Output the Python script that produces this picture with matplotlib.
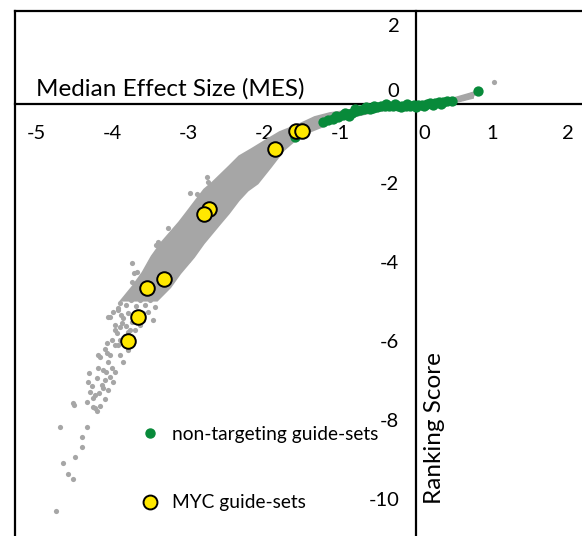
import numpy as np
import matplotlib
matplotlib.use("Agg")
import matplotlib.pyplot as plt
from matplotlib.lines import Line2D
from matplotlib.transforms import ScaledTranslation

plt.rcParams["font.family"] = ["Lato", "DejaVu Sans"]

# dense core of the gray cloud
# upper/left edge, from the right end down to the lower tip
band_upper_x = [0.74, 0.45, 0.0, -0.47, -0.87, -1.13, -1.33, -1.53, -1.79, -1.99, -2.16, -2.32,
                -2.45, -2.67, -2.78, -2.88, -3.01, -3.11, -3.34, -3.47, -3.59, -3.72, -3.86]
band_upper_y = [0.26, 0.10, 0.0, -0.06, -0.18, -0.25, -0.35, -0.53, -0.73, -0.96, -1.16, -1.34,
                -1.59, -2.00, -2.18, -2.43, -2.76, -3.01, -3.52, -3.87, -4.28, -4.63, -4.96]
# lower/right edge, from the lower tip back up to the right end
band_lower_x = [-3.41, -3.24, -3.11, -2.93, -2.80, -2.58, -2.47, -2.34, -2.22, -2.09, -1.92,
                -1.82, -1.75, -1.63, -1.46, -1.20, -1.07, -0.87, -0.47, 0.0, 0.45, 0.74]
band_lower_y = [-4.96, -4.63, -4.28, -3.87, -3.52, -3.01, -2.76, -2.43, -2.18, -2.00, -1.59,
                -1.34, -1.16, -0.96, -0.73, -0.53, -0.35, -0.32, -0.15, -0.07, 0.03, 0.17]

# sparse gray guide-sets outside the core
gray_x = [-4.74, -4.58, -4.51, -4.64, -4.49, -4.39, -4.39, -4.68, -4.33, -4.51, -4.50, -4.33,
          -4.25, -4.22, -4.20, -4.16, -4.09, -4.05, -3.99, -4.03, -4.09, -4.13, -4.26, -4.32,
          -4.30, -4.18, -4.05, -4.00, -4.03, -4.16, -4.09, -4.07, -3.93, -3.87, -4.05, -3.99,
          -3.92, -3.89, -3.86, -3.79, -4.18, -4.07, -3.96, -3.89, -3.83, -3.76, -3.92, -4.00,
          -3.82, -3.74, -3.70, -3.63, -3.59, -3.53, -3.46, -3.43, -4.03, -3.92, -3.74, -3.71,
          -3.74, -3.67, -3.50, -3.39, -3.42, -3.26, -3.39, -3.00, -2.97, -2.88, -2.75, -2.74,
          -3.96, -3.89, -4.12, -4.08, -3.96, -4.22, -4.17, -4.12, -4.20, -4.29, -4.25,
          -3.89, -3.82, -3.75, -3.68, -3.63, -3.57, -3.50, -3.79, -3.72, -3.59, -3.86, -3.96,
          -3.79, -3.88, 0.50, 0.56, 0.62, 0.68, 0.74, 1.03]
gray_y = [-10.30, -9.37, -9.49, -9.09, -8.94, -8.68, -8.43, -8.18, -8.18, -7.57, -7.62, -7.54,
          -7.67, -7.70, -7.77, -7.65, -7.47, -7.24, -7.04, -6.91, -6.99, -7.11, -7.14, -7.04,
          -6.81, -6.68, -6.53, -6.68, -6.35, -6.41, -6.20, -6.05, -5.80, -5.54, -5.39, -5.27,
          -5.16, -6.35, -6.53, -6.23, -6.35, -6.30, -6.10, -5.97, -5.87, -5.72, -6.10, -5.97,
          -5.62, -5.52, -5.72, -5.59, -5.47, -5.27, -5.47, -5.14, -5.39, -5.22, -4.03, -4.28,
          -4.51, -4.25, -4.03, -4.00, -3.57, -3.14, -3.49, -3.95, -2.25, -2.28, -1.85, -1.97,
          -5.72, -5.65, -6.73, -6.78, -6.78, -7.37, -7.32, -7.19, -6.94, -7.29, -7.44,
          -5.04, -5.09, -4.96, -5.11, -4.96, -5.09, -4.96, -5.29, -5.42, -5.29, -5.42, -5.59,
          -5.77, -5.34, 0.08, 0.12, 0.16, 0.20, 0.24, 0.56]

# non-targeting guide-sets
nt_x = [-1.23, -1.16, -1.09, -1.02, -0.96, -0.90, -0.84, -0.79, -0.74, -0.68, -0.63, -0.57,
        -0.51, -0.46, -0.41, -0.35, -0.30, -0.24, -0.18, -0.13, -0.08, -0.02, 0.03, 0.08,
        0.14, 0.19, 0.25, 0.30, 0.36, 0.41, 0.47, 0.82, -1.59,
        -1.05, -0.93, -0.80, -0.66, -0.55, -0.40, -0.27, -0.12, 0.0, 0.10, 0.22, 0.33,
        -0.20, -0.60, -0.88]
nt_y = [-0.45, -0.41, -0.38, -0.33, -0.28, -0.25, -0.22, -0.18, -0.15, -0.13, -0.11, -0.09,
        -0.08, -0.06, -0.05, -0.045, -0.04, -0.04, -0.04, -0.04, -0.04, -0.035, -0.03, -0.015,
        0.0, 0.015, 0.03, 0.04, 0.05, 0.065, 0.08, 0.34, -0.84,
        -0.30, -0.22, -0.14, -0.08, -0.05, -0.01, 0.0, 0.0, -0.07, -0.05, -0.02, 0.0,
        -0.08, -0.14, -0.30]

# MYC guide-sets
myc_x = [-1.58, -1.50, -1.855, -2.72, -2.79, -3.32, -3.54, -3.66, -3.79]
myc_y = [-0.68, -0.68, -1.14, -2.66, -2.78, -4.43, -4.66, -5.39, -6.00]

x_ticks = [-5, -4, -3, -2, -1, 0, 1, 2]
y_ticks = [2, 0, -2, -4, -6, -8, -10]

gray = "#A6A6A6"
green = "#088A3A"
yellow = "#FFE800"

fig = plt.figure(figsize=(5.82, 5.36), dpi=100)
ax = fig.add_axes([15 / 582, 0, 567 / 582, 525 / 536])
ax.set_xlim(-5.276, 2.184)
ax.set_ylim(-10.94, 2.354)

ax.fill(band_upper_x + band_lower_x, band_upper_y + band_lower_y,
        color=gray, lw=2.5, zorder=2)
ax.scatter(gray_x, gray_y, s=14, color=gray, lw=0, zorder=2)
ax.scatter(nt_x, nt_y, s=55, color=green, lw=0, zorder=3)
ax.scatter(myc_x, myc_y, s=110, color=yellow, edgecolors="black", lw=1.4, zorder=4)

# axes crossing at zero, frame on the left and top
ax.spines["left"].set_position(("data", 0))
ax.spines["bottom"].set_position(("data", 0))
ax.spines["right"].set_position(("axes", 0))
for s in ["left", "bottom", "right", "top"]:
    ax.spines[s].set_linewidth(1.6)
    ax.spines[s].set_zorder(1)

ax.set_xticks(x_ticks)
ax.set_yticks(y_ticks)
ax.set_xticklabels([str(v) for v in x_ticks])
ax.set_yticklabels([str(v) for v in y_ticks])
ax.tick_params(axis="both", length=0, labelsize=14.5)
ax.tick_params(axis="x", pad=15)
ax.tick_params(axis="y", pad=12)
ax.tick_params(right=False, labelright=False)

ax.text(-5.0, 0.38, "Median Effect Size (MES)", fontsize=17.5, ha="left", va="center")
ax.text(0.24, -8.2, "Ranking Score", fontsize=17.5, rotation=90, ha="center", va="center")

handles = [
    Line2D([], [], ls="none", marker="o", ms=6.5, color=green, mec=green),
    Line2D([], [], ls="none", marker="o", ms=10, mfc=yellow, mec="black", mew=1.4),
]
ax.legend(handles, ["non-targeting guide-sets", "MYC guide-sets"],
          loc="lower left", bbox_to_anchor=(132.7 / 582, 17 / 536),
          bbox_transform=fig.transFigure, frameon=False, fontsize=13.8,
          labelspacing=2.67, handlelength=1.0, handletextpad=0.65, borderaxespad=0)

fig.canvas.draw()
# the zero labels sit off the axes lines
ax.xaxis.get_major_ticks()[5].label1.set_transform(
    ax.xaxis.get_major_ticks()[5].label1.get_transform() + ScaledTranslation(0.08, 0, fig.dpi_scale_trans))
ax.yaxis.get_major_ticks()[1].label1.set_transform(
    ax.yaxis.get_major_ticks()[1].label1.get_transform() + ScaledTranslation(0, 0.14, fig.dpi_scale_trans))

fig.savefig("out.png", dpi=100)
